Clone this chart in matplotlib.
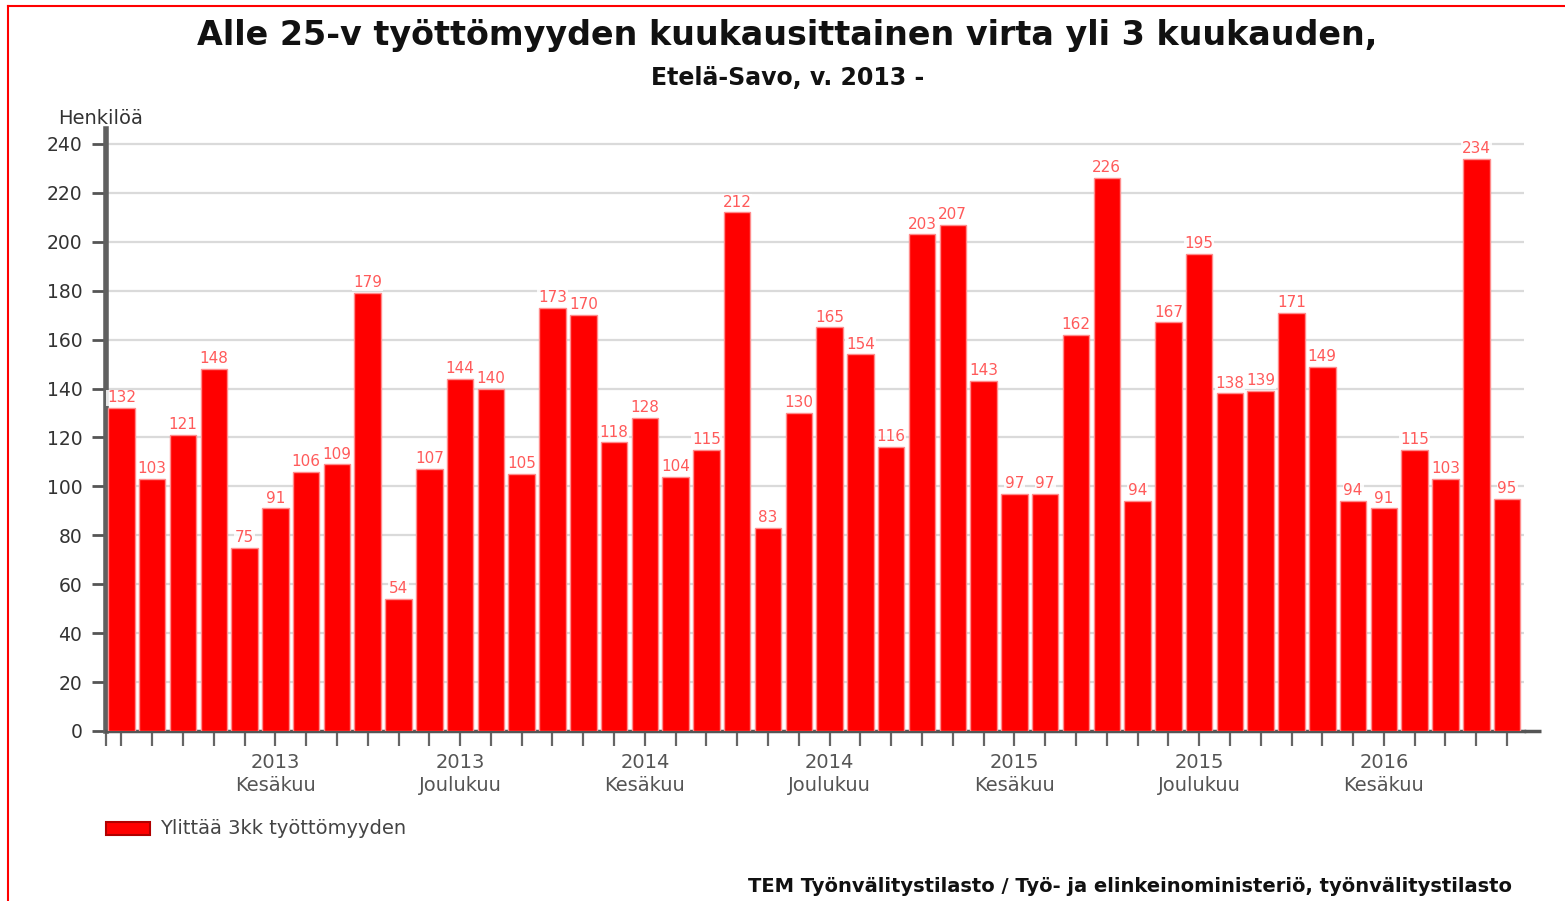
import matplotlib
matplotlib.use("Agg")
import matplotlib.pyplot as plt
from matplotlib.lines import Line2D
from matplotlib.patches import Rectangle
import matplotlib.transforms as mtransforms

plt.rcParams['font.family'] = ['DejaVu Sans']

values = [132, 103, 121, 148, 75, 91, 106, 109, 179, 54, 107, 144, 140, 105,
          173, 170, 118, 128, 104, 115, 212, 83, 130, 165, 154, 116, 203, 207,
          143, 97, 97, 162, 226, 94, 167, 195, 138, 139, 171, 149, 94, 91, 115,
          103, 234, 95]
label_idx = [5, 11, 17, 23, 29, 35, 41]
label_years = ['2013', '2013', '2014', '2014', '2015', '2015', '2016']
label_months = ['Kesäkuu', 'Joulukuu', 'Kesäkuu', 'Joulukuu', 'Kesäkuu', 'Joulukuu', 'Kesäkuu']
yticks = [0, 20, 40, 60, 80, 100, 120, 140, 160, 180, 200, 220, 240]
title = "Alle 25-v työttömyyden kuukausittainen virta yli 3 kuukauden,"
subtitle = "Etelä-Savo, v. 2013 -"
ylabel = "Henkilöä"
legend_label = "Ylittää 3kk työttömyyden"
source = "TEM Työnvälitystilasto / Työ- ja elinkeinoministeriö, työnvälitystilasto"

W, H = 1565, 901
fig = plt.figure(figsize=(W / 100, H / 100), dpi=100)
ax = fig.add_axes([106 / W, 1 - 731 / H, (1524 - 106) / W, (731 - 129) / H])

x = list(range(len(values)))
ax.bar(x, values, width=0.86, color='#ff0000', edgecolor='#ff8c8c', linewidth=1.0, zorder=3)

ax.set_xlim(-0.5, 45.55)
ax.set_ylim(0, 246.1)

ax.set_yticks(yticks)
ax.set_yticklabels([str(v) for v in yticks], fontsize=13.5, color='#333333')
ax.yaxis.grid(True, color='#dadada', linewidth=1.6, zorder=0)
ax.set_axisbelow(True)
ax.tick_params(axis='y', length=10, width=2, color='#555555', pad=7)

ax.set_xticks([-0.5] + x)
ax.set_xticklabels([])
ax.tick_params(axis='x', length=11, width=1.6, color='#666666', direction='out')

for s in ['top', 'right']:
    ax.spines[s].set_visible(False)
ax.spines['left'].set_color('#606060')
ax.spines['left'].set_linewidth(4)
ax.spines['bottom'].set_color('#555555')
ax.spines['bottom'].set_linewidth(2.5)
# extend bottom axis line slightly beyond plot
ax.plot([45.55, 46.1], [0, 0], color='#555555', lw=2.5, clip_on=False, zorder=4,
        solid_capstyle='butt')

for xi, v in zip(x, values):
    ax.annotate(str(v), (xi, v), xytext=(0, 2), textcoords='offset points',
                ha='center', va='bottom', fontsize=11, color='#ff5a5a', zorder=5,
                bbox=dict(boxstyle='square,pad=0.05', fc='white', ec='none', alpha=0.85))

trans = mtransforms.blended_transform_factory(ax.transData, ax.transAxes)
for i, yr, mo in zip(label_idx, label_years, label_months):
    ax.text(i, -0.052, yr, transform=trans, ha='center', va='center', fontsize=14, color='#555555')
    ax.text(i, -0.091, mo, transform=trans, ha='center', va='center', fontsize=14, color='#555555')

fig.text(787 / W, 1 - 36 / H, title, ha='center', va='center', fontsize=24, fontweight='bold', color='#111111')
fig.text(788 / W, 1 - 78 / H, subtitle, ha='center', va='center', fontsize=17, fontweight='bold', color='#111111')
fig.text(58 / W, 1 - 118 / H, ylabel, ha='left', va='center', fontsize=14, color='#333333')

# legend
fig.patches.append(Rectangle((106 / W, 1 - 835 / H), 44 / W, 13 / H, transform=fig.transFigure,
                             facecolor='#ff0000', edgecolor='#b00000', linewidth=1.5))
fig.text(160 / W, 1 - 828 / H, legend_label, ha='left', va='center', fontsize=14, color='#444444')

fig.text(1512 / W, 1 - 886 / H, source, ha='right', va='center', fontsize=14, fontweight='bold', color='#111111')

# red frame
fig.lines.append(Line2D([8 / W, 8 / W], [1 - 6 / H, 0], transform=fig.transFigure, color='#ff0000', lw=1.5))
fig.lines.append(Line2D([8 / W, 1], [1 - 6 / H, 1 - 6 / H], transform=fig.transFigure, color='#ff0000', lw=1.5))

fig.savefig('out.png', dpi=100)
